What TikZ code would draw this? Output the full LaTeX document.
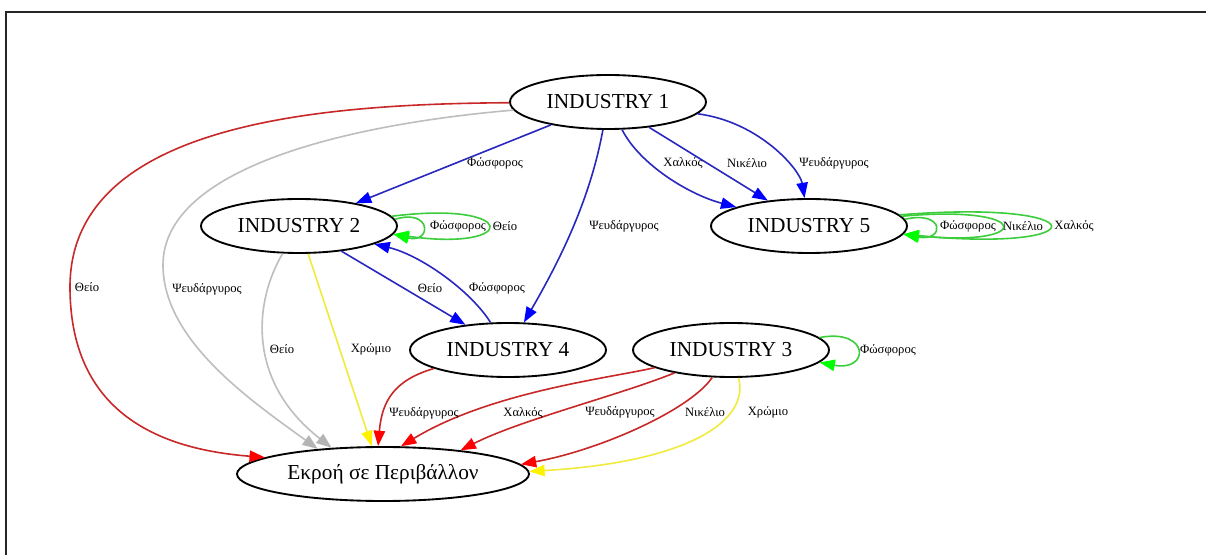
\documentclass[tikz,border=0pt]{standalone}
\usepackage{fontspec}
\setmainfont{Liberation Serif}
\usetikzlibrary{arrows.meta,shapes.geometric}

\definecolor{edgered}{RGB}{200,40,40}
\definecolor{edgeblue}{RGB}{40,40,190}
\definecolor{edgegreen}{RGB}{60,205,60}
\definecolor{edgegray}{RGB}{190,190,190}
\definecolor{edgeyellow}{RGB}{240,235,60}
\definecolor{headgray}{RGB}{180,180,180}

\tikzset{
  industry/.style={ellipse, draw, line width=1.4pt, minimum width=147pt,
    minimum height=40.5pt, inner sep=0pt, font=\fontsize{16}{18}\selectfont},
  lbl/.style={font=\fontsize{9.5}{11}\selectfont, inner sep=0pt},
  flow/.style={line width=1.2pt},
  tip/.style={-{Triangle[length=11.5pt,width=8.5pt,color=#1]}},
  redflow/.style={flow, edgered, tip=red},
  blueflow/.style={flow, edgeblue, tip=blue},
  greenflow/.style={flow, edgegreen, tip=green},
  grayflow/.style={flow, edgegray, tip=headgray},
  yellowflow/.style={flow, edgeyellow, tip=yellow},
}

\begin{document}
\begin{tikzpicture}[x=0.75pt,y=-0.75pt]
\useasboundingbox (0,0) rectangle (1206,555);
\fill[white] (0,0) rectangle (1206,555);
% outer frame
\draw[line width=1.8pt, black!85] (6,562) -- (6,12) -- (1212,12);

% nodes
\node[industry] (i1) at (608,102) {INDUSTRY 1};
\node[industry] (i2) at (299,226) {INDUSTRY 2};
\node[industry] (i5) at (809,226) {INDUSTRY 5};
\node[industry] (i4) at (508,350) {INDUSTRY 4};
\node[industry] (i3) at (731,350) {INDUSTRY 3};
\node[industry, minimum width=219pt] (e) at (383,474) {Εκροή σε Περιβάλλον};

% flows leaving industry 1
\draw[redflow] (i1) .. controls (330,104) and (70,120) .. (70,287)
  .. controls (70,420) and (170,450) .. (e.172);
\draw[grayflow] (i1) .. controls (340,125) and (163,170) .. (163,265)
  .. controls (163,340) and (250,400) .. (e.159);
\draw[blueflow] (i1) -- (i2);
\draw[blueflow] (i1) .. controls (590,200) and (560,260) .. (i4);
\draw[blueflow] (i1) .. controls (640,165) and (690,195) .. (i5);
\draw[blueflow] (i1) -- (i5);
\draw[blueflow] (i1) .. controls (760,122) and (800,170) .. (i5);

% industry 2 <-> industry 4
\draw[blueflow] (i2) -- (i4);
\draw[blueflow] (i4) .. controls (470,290) and (420,255) .. (i2);

% self loops
\draw[greenflow] (i2.4) .. controls (432,208) and (432,244) .. (i2.-5);
\draw[greenflow] (i2.6) .. controls (520,200) and (520,252) .. (i2.-5);
\draw[greenflow] (i5.4) .. controls (945,210) and (945,242) .. (i5.-5);
\draw[greenflow] (i5.6) .. controls (1035,204) and (1035,248) .. (i5.-5);
\draw[greenflow] (i5.7) .. controls (1099,199) and (1099,253) .. (i5.-5);
\draw[greenflow] (i3.8) .. controls (870,328) and (870,372) .. (i3.-8);

% flows into the environment
\draw[grayflow] (i2) .. controls (255,300) and (245,380) .. (e.153);
\draw[yellowflow] (i2) -- (e.112);
\draw[redflow] (i4.194) .. controls (395,380) and (382,400) .. (e.100);
\draw[redflow] (i3) .. controls (610,378) and (490,392) .. (e.57);
\draw[redflow] (i3) .. controls (620,395) and (520,420) .. (e.17);
\draw[redflow] (i3) .. controls (690,410) and (600,450) .. (e.4.5);
\draw[yellowflow] (i3) .. controls (750,420) and (690,462) .. (e.1.5);

% edge labels
\node[lbl] (l1) at (87,287) {Θείο};
\node[lbl] (l2) at (207,289) {Ψευδάργυρος};
\node[lbl] (l3) at (495,163) {Φώσφορος};
\node[lbl] (l4) at (624,226) {Ψευδάργυρος};
\node[lbl] (l5) at (683,163) {Χαλκός};
\node[lbl] (l6) at (747,163) {Νικέλιο};
\node[lbl] (l7) at (834,163) {Ψευδάργυρος};
\node[lbl] (l8) at (458,226) {Φώσφορος};
\node[lbl] (l9) at (505,226) {Θείο};
\node[lbl] (l10) at (968,226) {Φώσφορος};
\node[lbl] (l11) at (1023,226) {Νικέλιο};
\node[lbl] (l12) at (1074,226) {Χαλκός};
\node[lbl] (l13) at (430,288) {Θείο};
\node[lbl] (l14) at (497,288) {Φώσφορος};
\node[lbl] (l15) at (282,349) {Θείο};
\node[lbl] (l16) at (371,349) {Χρώμιο};
\node[lbl] (l17) at (424,413) {Ψευδάργυρος};
\node[lbl] (l18) at (523,413) {Χαλκός};
\node[lbl] (l19) at (620,412) {Ψευδάργυρος};
\node[lbl] (l20) at (705,412) {Νικέλιο};
\node[lbl] (l21) at (768,412) {Χρώμιο};
\node[lbl] (l22) at (888,350) {Φώσφορος};
\end{tikzpicture}
\end{document}
